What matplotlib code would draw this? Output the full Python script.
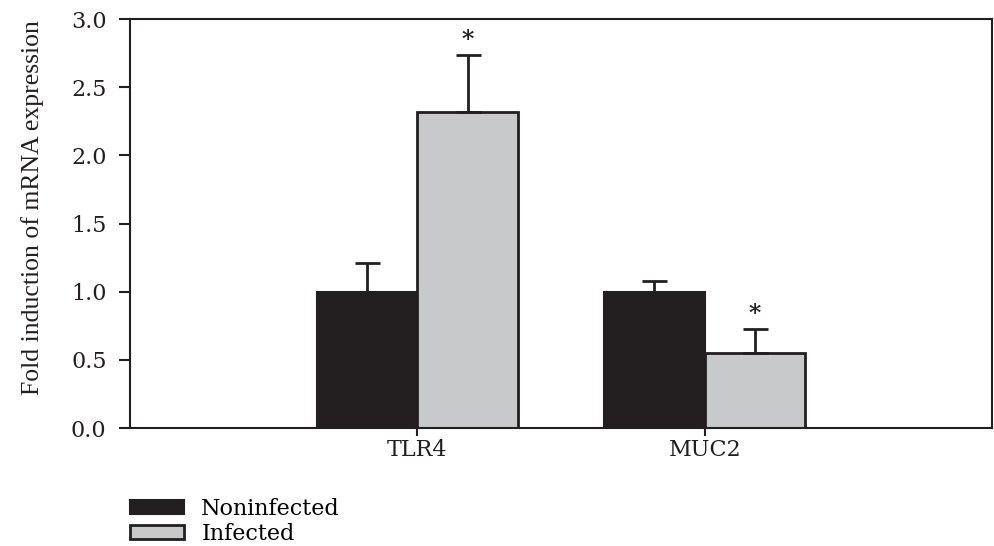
import matplotlib
matplotlib.use("Agg")
import matplotlib.pyplot as plt
import numpy as np

# data
genes = ["TLR4", "MUC2"]
groups = ["Noninfected", "Infected"]
noninfected = [1.00, 1.00]
noninfected_err = [0.21, 0.08]
infected = [2.32, 0.55]
infected_err = [0.42, 0.18]
significant = [True, True]

ink = "#231f20"
gray = "#c8c9cb"

# wide serif for ticks/legend, narrow serif for the axis title
wide = ["DejaVu Serif"]
narrow = ["Liberation Serif", "DejaVu Serif"]
plt.rcParams["font.family"] = wide

fig = plt.figure(figsize=(9.94, 5.46), dpi=100)
ax = fig.add_axes([0.131, 0.216, 0.867, 0.749])

x = np.arange(len(genes))
w = 0.35
err_kw = {"ecolor": ink, "elinewidth": 2, "capsize": 9, "capthick": 2}

b1 = ax.bar(x - w / 2, noninfected, w, color=ink, edgecolor=ink, linewidth=1.5,
            yerr=[np.zeros(len(genes)), noninfected_err], error_kw=err_kw, label=groups[0])
b2 = ax.bar(x + w / 2, infected, w, color=gray, edgecolor=ink, linewidth=2,
            yerr=[np.zeros(len(genes)), infected_err], error_kw=err_kw, label=groups[1])

for i, sig in enumerate(significant):
    if sig:
        ax.text(x[i] + w / 2, infected[i] + infected_err[i] + 0.02, "*",
                ha="center", va="bottom", fontsize=17, fontweight="bold", color=ink)

ax.set_xlim(-1, 2)
ax.set_ylim(0, 3.0)
ax.set_yticks(np.arange(0, 3.01, 0.5))
ax.set_yticklabels([f"{v:.1f}" for v in np.arange(0, 3.01, 0.5)])
ax.set_xticks(x)
ax.set_xticklabels(genes)
ax.tick_params(axis="y", direction="out", length=8, width=1.5, labelsize=16, colors=ink, pad=9)
ax.tick_params(axis="x", direction="out", length=6, width=1.5, labelsize=16, colors=ink, pad=2)
for s in ax.spines.values():
    s.set_color(ink)
    s.set_linewidth(1.5)

ax.set_ylabel("Fold induction of mRNA expression", fontsize=18.5, color=ink, family=narrow)
ax.yaxis.set_label_coords(-0.100, 0.538)

leg = fig.legend(handles=[b1, b2], labels=groups, loc="upper left", bbox_to_anchor=(0.131, 0.088),
                 frameon=False, fontsize=16, handlelength=2.4, handleheight=0.6,
                 labelspacing=0.12, handletextpad=0.8, borderpad=0, borderaxespad=0)

fig.savefig("out.png", dpi=100, facecolor="white")
